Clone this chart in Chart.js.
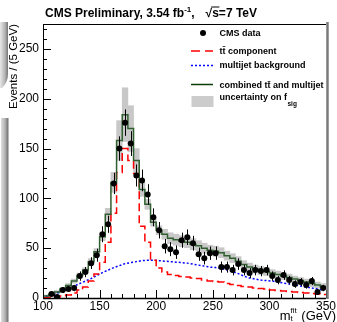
<!DOCTYPE html>
<html>
<head>
<meta charset="utf-8">
<script src="https://cdn.jsdelivr.net/npm/chart.js@4.4.0/dist/chart.umd.min.js"></script>
<style>
  html, body { margin: 0; padding: 0; background: #fff; }
  #wrap { position: relative; width: 337px; height: 322px; }
</style>
</head>
<body>
<div id="wrap"><canvas id="chart-mtop"></canvas></div>
<script>
// DATA (5 GeV BINS)
const binCenters = [
  102.5, 107.5, 112.5, 117.5, 122.5, 127.5, 132.5, 137.5, 142.5, 147.5,
  152.5, 157.5, 162.5, 167.5, 172.5, 177.5, 182.5, 187.5, 192.5, 197.5,
  202.5, 207.5, 212.5, 217.5, 222.5, 227.5, 232.5, 237.5, 242.5, 247.5,
  252.5, 257.5, 262.5, 267.5, 272.5, 277.5, 282.5, 287.5, 292.5, 297.5,
  302.5, 307.5, 312.5, 317.5, 322.5, 327.5, 332.5, 337.5, 342.5, 347.5
];
const cmsData = [
  0, 4, 1, 8, 9, 10, 22, 26, 35, 43,
  64, 74, 115, 150, 176, 155, 123, 118, 104, 81,
  68, 52, 49, 46, 58, 61, 55, 44, 40, 45,
  45, 31, 31, 28, 34, 28, 25, 28, 27, 28,
  22, 18, 23, 18, 14, 16, 13, 17, 6, 10
];
const ttbarComponent = [
  0.3, 0.5, 1, 2, 3, 5, 8, 11, 17, 24,
  36, 56, 85, 126, 150, 138, 125, 72, 56, 38,
  30, 26, 23.5, 22.5, 21.5, 21, 20, 19.5, 18, 17,
  16.5, 16, 14.5, 13.5, 12.5, 11.5, 11, 10, 9.5, 9,
  8, 7.5, 7, 6.5, 6, 5.5, 5, 4.5, 4, 3.5
];
const multijetBackground = [
  1.5, 3, 5, 7, 9.5, 12, 14.5, 17, 19.5, 22.5,
  25.5, 28, 30.5, 32.5, 34.5, 35.5, 36.5, 37.5, 38, 38,
  37.5, 37, 36.5, 36, 35.5, 35, 34, 33, 32, 31,
  30.5, 29.5, 28, 26.5, 24.5, 22, 20, 19, 18, 17.5,
  17, 16, 15, 14, 13, 12, 11, 10, 9, 8
];
const combinedFit = [
  2, 3.5, 6, 9, 12.5, 17, 22.5, 28, 36.5, 46.5,
  61.5, 84, 116, 158, 184, 170, 138, 109, 94, 76,
  68, 64, 60, 58.5, 57, 56, 54, 52.5, 50, 48,
  47, 45.5, 42.5, 40, 37, 33.5, 31, 29, 27.5, 26.5,
  25, 23.5, 22, 20.5, 19, 17.5, 16, 14.5, 13, 11.5
];
const fsigUncertainty = [
  1, 1, 1.5, 1.5, 2, 2, 2.5, 2.5, 3, 3,
  4, 6, 10, 20, 27, 23, 12, 7, 5, 4,
  4.5, 5, 5.5, 5.5, 5.5, 5.5, 5.5, 5, 5, 5,
  5, 5, 4.5, 4.5, 4.5, 4, 4, 4, 4, 4,
  3.5, 3.5, 3.5, 3.5, 3, 3, 3, 3, 3, 3
];
const xTicks = [100, 150, 200, 250, 300, 350];
const yTicks = [0, 50, 100, 150, 200, 250];

const BIN_HALF = 2.5;
const FONT = '"Liberation Sans", Arial, Helvetica, sans-serif';
let chartMtop = null;

// STEP HISTOGRAM POINTS (LOWER BIN EDGES + LAST UPPER EDGE)
function stepPoints(values) {
  const pts = values.map((v, i) => ({ x: binCenters[i] - BIN_HALF, y: v }));
  pts.push({ x: binCenters[binCenters.length - 1] + BIN_HALF, y: values[values.length - 1] });
  return pts;
}

function line(ctx, x1, y1, x2, y2) {
  ctx.beginPath();
  ctx.moveTo(x1, y1);
  ctx.lineTo(x2, y2);
  ctx.stroke();
}

// GRAY SCAN SHADOW ON THE LEFT EDGE
function drawScanShadow(ctx) {
  const grad = ctx.createLinearGradient(0, 0, 9, 0);
  grad.addColorStop(0, '#e8e8e8');
  grad.addColorStop(0.55, '#b4b4b4');
  grad.addColorStop(0.85, '#7c7c7c');
  grad.addColorStop(1, '#d8d8d8');
  ctx.save();
  ctx.fillStyle = grad;
  ctx.fillRect(0, 22, 8, 52);
  ctx.beginPath();
  ctx.moveTo(0, 74);
  ctx.lineTo(8, 74);
  ctx.quadraticCurveTo(8, 82, 2, 88);
  ctx.lineTo(0, 88);
  ctx.closePath();
  ctx.fill();
  ctx.fillRect(1, 118, 8, 204);
  ctx.restore();
}

// DATA ERROR BARS (SQRT N)
function drawErrorBars(chart) {
  const ctx = chart.ctx;
  const xs = chart.scales.x;
  const ys = chart.scales.y;
  ctx.save();
  ctx.strokeStyle = '#000';
  ctx.lineWidth = 1;
  cmsData.forEach((n, i) => {
    if (!n) return;
    const err = Math.sqrt(n);
    const x = Math.round(xs.getPixelForValue(binCenters[i])) + 0.5;
    line(ctx, x, ys.getPixelForValue(Math.max(n - err, 0)), x, ys.getPixelForValue(n + err));
  });
  ctx.restore();
}

// ROOT STYLE FRAME AND INWARD TICKS
function drawFrame(chart) {
  const ctx = chart.ctx;
  const xs = chart.scales.x;
  const ys = chart.scales.y;
  const { left, right, top, bottom } = chart.chartArea;
  ctx.save();
  ctx.strokeStyle = '#000';
  ctx.lineWidth = 1;
  line(ctx, left, top + 0.5, right, top + 0.5);
  line(ctx, left + 0.5, top, left + 0.5, bottom + 1);
  ctx.lineWidth = 1.5;
  line(ctx, left, bottom + 0.5, right, bottom + 0.5);
  ctx.lineWidth = 1;
  for (let v = ys.min; v <= ys.max; v += 10) {
    const y = Math.round(ys.getPixelForValue(v)) + 0.5;
    line(ctx, left, y, left + (v % 50 === 0 ? 8 : 4), y);
  }
  for (let v = xs.min; v <= xs.max; v += 10) {
    const x = Math.round(xs.getPixelForValue(v)) + 0.5;
    line(ctx, x, bottom, x, bottom - (v % 50 === 0 ? 8 : 4));
  }
  ctx.strokeStyle = '#7a7a7a';
  ctx.lineWidth = 2.5;
  line(ctx, right + 1.5, top - 2, right + 1.5, bottom + 1);
  ctx.restore();
}

// TITLE AND AXIS TITLES
function drawTitles(chart) {
  const ctx = chart.ctx;
  ctx.save();
  ctx.fillStyle = '#000';
  ctx.textBaseline = 'middle';
  ctx.textAlign = 'left';

  // title
  let x = 45;
  const y = 13.5;
  ctx.font = 'bold 12px ' + FONT;
  const t1 = 'CMS Preliminary, 3.54 fb';
  ctx.fillText(t1, x, y);
  x += ctx.measureText(t1).width;
  ctx.font = 'bold 8px ' + FONT;
  ctx.fillText('-1', x, y - 4);
  x += ctx.measureText('-1').width;
  ctx.font = 'bold 12px ' + FONT;
  ctx.fillText(',', x, y);
  x += ctx.measureText(',').width + 11;
  ctx.fillText('\u221As=7 TeV', x, y);
  const wRoot = ctx.measureText('\u221A').width;
  const wS = ctx.measureText('s').width;
  ctx.strokeStyle = '#000';
  ctx.lineWidth = 1;
  line(ctx, x + wRoot - 1, y - 6.5, x + wRoot + wS + 0.5, y - 6.5);

  // x title: m_t^fit (GeV)
  ctx.font = '13px ' + FONT;
  const wM = ctx.measureText('m').width;
  const wUnit = ctx.measureText(' (GeV)').width;
  ctx.font = '8px ' + FONT;
  const wFit = ctx.measureText('fit').width;
  const total = wM + wFit + 1 + wUnit;
  let xt = 336 - total;
  const yt = 316;
  ctx.font = '13px ' + FONT;
  ctx.fillText('m', xt, yt);
  xt += wM;
  ctx.font = '8px ' + FONT;
  ctx.fillText('t', xt, yt + 3);
  ctx.fillText('fit', xt, yt - 5);
  xt += wFit + 1;
  ctx.font = '13px ' + FONT;
  ctx.fillText(' (GeV)', xt, yt);

  // y title
  ctx.translate(14, 24);
  ctx.rotate(-Math.PI / 2);
  ctx.textAlign = 'right';
  ctx.font = '11.5px ' + FONT;
  ctx.fillText('Events / (5 GeV)', 0, 0);
  ctx.restore();
}

// LEGEND (TOP RIGHT, INSIDE FRAME)
function drawLegend(chart) {
  const ctx = chart.ctx;
  const x0 = 191, x1 = 213, tx = 219.5;
  ctx.save();
  ctx.textBaseline = 'middle';
  ctx.textAlign = 'left';
  ctx.fillStyle = '#000';
  ctx.font = 'bold 9px ' + FONT;

  ctx.beginPath();
  ctx.arc(203, 33, 3, 0, Math.PI * 2);
  ctx.fill();
  ctx.fillText('CMS data', tx, 33.5);

  ctx.lineWidth = 1.5;
  ctx.strokeStyle = '#ff0000';
  ctx.setLineDash([9, 5]);
  line(ctx, x0, 51, x1, 51);
  ctx.fillText('tt\u0304 component', tx, 51.5);

  ctx.strokeStyle = '#0000ff';
  ctx.setLineDash([2, 2]);
  line(ctx, x0, 65.5, x1, 65.5);
  ctx.fillText('multijet background', tx, 66);

  ctx.setLineDash([]);
  ctx.strokeStyle = '#0b3d0b';
  line(ctx, x0, 84.5, x1, 84.5);
  ctx.fillText('combined tt\u0304 and multijet', tx, 86);

  ctx.fillStyle = '#cccccc';
  ctx.fillRect(191.5, 96, 22, 11);
  ctx.fillStyle = '#000';
  const tu = 'uncertainty on f';
  ctx.fillText(tu, tx, 97.5);
  const wu = ctx.measureText(tu).width;
  ctx.font = 'bold 6.5px ' + FONT;
  ctx.fillText('sig', tx + wu + 0.5, 104);
  ctx.restore();
}

const rootStyle = {
  id: 'rootStyle',
  beforeDraw(chart) {
    drawScanShadow(chart.ctx);
  },
  afterDatasetsDraw(chart) {
    drawErrorBars(chart);
    drawFrame(chart);
  },
  afterDraw(chart) {
    drawTitles(chart);
    drawLegend(chart);
  }
};

// BUILD CHART
function initChart() {
  const ctx = document.getElementById('chart-mtop');
  chartMtop = new Chart(ctx, {
    type: 'bar',
    data: {
      datasets: [
        {
          type: 'line',
          label: 'CMS data',
          data: binCenters.map((x, i) => ({ x: x, y: cmsData[i] > 0 ? cmsData[i] : null })),
          showLine: false,
          pointRadius: 3,
          pointBackgroundColor: '#000',
          pointBorderWidth: 0,
          order: 1
        },
        {
          type: 'line',
          label: 'combined',
          data: stepPoints(combinedFit),
          stepped: true,
          borderColor: '#2f5f2f',
          borderWidth: 1.5,
          pointRadius: 0,
          fill: false,
          order: 2
        },
        {
          type: 'line',
          label: 'ttbar component',
          data: stepPoints(ttbarComponent),
          stepped: true,
          borderColor: '#ff0000',
          borderDash: [8, 4],
          borderWidth: 1.5,
          pointRadius: 0,
          fill: false,
          order: 3
        },
        {
          type: 'line',
          label: 'multijet background',
          data: binCenters.map((x, i) => ({ x: x, y: multijetBackground[i] })),
          borderColor: '#0000ff',
          borderDash: [2, 2],
          borderWidth: 1.5,
          pointRadius: 0,
          tension: 0,
          fill: false,
          order: 4
        },
        {
          type: 'bar',
          label: 'uncertainty on fsig',
          data: binCenters.map((x, i) => ({
            x: x,
            y: [combinedFit[i] - fsigUncertainty[i], combinedFit[i] + fsigUncertainty[i]]
          })),
          backgroundColor: '#c8c8c8',
          borderWidth: 0,
          barPercentage: 1,
          categoryPercentage: 1,
          order: 5
        }
      ]
    },
    options: {
      responsive: true,
      maintainAspectRatio: false,
      animation: false,
      devicePixelRatio: 1,
      layout: { padding: { top: 24, right: 10, left: 0, bottom: 0 } },
      plugins: {
        legend: { display: false },
        tooltip: { enabled: false },
        title: { display: false }
      },
      scales: {
        x: {
          type: 'linear',
          min: 100,
          max: 350,
          offset: false,
          afterFit: s => { s.height = 24; },
          afterBuildTicks: s => { s.ticks = xTicks.map(v => ({ value: v })); },
          grid: { display: false, drawTicks: false },
          border: { display: false },
          ticks: { color: '#000', font: { family: FONT, size: 12 }, padding: 1, maxRotation: 0, autoSkip: false }
        },
        y: {
          min: 0,
          max: 275,
          afterFit: s => { s.width = 43; },
          afterBuildTicks: s => { s.ticks = yTicks.map(v => ({ value: v })); },
          grid: { display: false, drawTicks: false },
          border: { display: false },
          ticks: { color: '#000', font: { family: FONT, size: 12 }, padding: 4 }
        }
      }
    },
    plugins: [rootStyle]
  });
}

initChart();
</script>
</body>
</html>
